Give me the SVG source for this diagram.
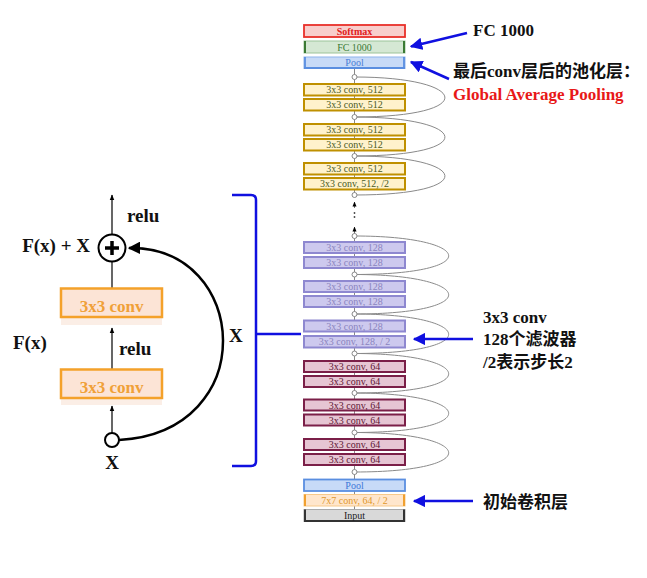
<svg xmlns="http://www.w3.org/2000/svg" width="647" height="578" viewBox="0 0 647 578">
<defs>
<marker id="ab" viewBox="0 0 10 10" refX="9" refY="5" markerWidth="5" markerHeight="5" orient="auto" markerUnits="strokeWidth"><path d="M0,0 L10,5 L0,10 Z" fill="#1010E0"/></marker>
<marker id="ak" viewBox="0 0 10 10" refX="9" refY="5" markerWidth="5" markerHeight="5" orient="auto" markerUnits="strokeWidth"><path d="M0,0 L10,5 L0,10 Z" fill="#000"/></marker>
<marker id="as" viewBox="0 0 10 10" refX="9" refY="5" markerWidth="5" markerHeight="5" orient="auto" markerUnits="strokeWidth"><path d="M0,1 L10,5 L0,9 Z" fill="#000"/></marker>
<style>
.lbl{font-family:"Liberation Serif","Noto Sans CJK SC",serif;font-weight:bold;font-size:17px;fill:#111}
.big{font-family:"Liberation Serif",serif;font-weight:bold;font-size:19px;fill:#111}
.bt{font-family:"Liberation Serif",serif;font-size:10px;text-anchor:middle}
.b512 rect{fill:#FFF2CC;stroke:#BF9000;stroke-width:2}
.b512 text{fill:#4A5A1E}
.b128 rect{fill:#CDC9EE;stroke:#8E88D0;stroke-width:2}
.b128 text{fill:#8A84BE}
.b64 rect{fill:#E6C5D3;stroke:#7B1F48;stroke-width:2}
.b64 text{fill:#5E1533}
.arc{fill:none;stroke:#8a8a8a;stroke-width:1}
.dot{fill:#fff;stroke:#888;stroke-width:1}
.blue{stroke:#1010E0;stroke-width:2.5;fill:none}
.lbox{fill:#FCE4D6;stroke:#F4A12A;stroke-width:2.5}
.lshadow{fill:#FBEEE6}
.ltext{font-family:"Liberation Serif",serif;font-weight:bold;font-size:17px;fill:#F0A038;text-anchor:middle}
</style>
</defs>

<!-- connectors -->
<g id="connectors">
  <line x1="354.5" y1="68" x2="354.5" y2="196" stroke="#888" stroke-width="1"/>
  <line x1="354.5" y1="236" x2="354.5" y2="509" stroke="#888" stroke-width="1"/>
  <line x1="354.5" y1="208" x2="354.5" y2="202" stroke="#777" stroke-width="1" marker-end="url(#as)"/>
  <line x1="354.5" y1="234" x2="354.5" y2="227" stroke="#777" stroke-width="1" marker-end="url(#as)"/>
  <circle cx="354.5" cy="213" r="0.9" fill="#444"/>
  <circle cx="354.5" cy="217" r="0.9" fill="#444"/>
  <path class="arc" d="M354.5,77 C470,77 480,117 354.5,117"/>
  <path class="arc" d="M354.5,117 C470,117 480,156 354.5,156"/>
  <path class="arc" d="M354.5,156 C470,156 480,195 354.5,195"/>
  <path class="arc" d="M354.5,236 C475,236 485,274.5 354.5,274.5"/>
  <path class="arc" d="M354.5,274.5 C475,274.5 485,314 354.5,314"/>
  <path class="arc" d="M354.5,314 C475,314 485,353.5 354.5,353.5"/>
  <path class="arc" d="M354.5,353.5 C475,353.5 485,393 354.5,393"/>
  <path class="arc" d="M354.5,393 C475,393 485,432.5 354.5,432.5"/>
  <path class="arc" d="M354.5,432.5 C475,432.5 485,472 354.5,472"/>
  <!-- left diagram -->
  <line x1="112" y1="234" x2="112" y2="195" stroke="#000" stroke-width="1.2" marker-end="url(#as)"/>
  <line x1="112" y1="262" x2="112" y2="288" stroke="#000" stroke-width="1.2"/>
  <line x1="112" y1="369" x2="112" y2="328" stroke="#000" stroke-width="1.2" marker-end="url(#as)"/>
  <line x1="112" y1="433" x2="112" y2="406" stroke="#000" stroke-width="1.2" marker-end="url(#as)"/>
  <path d="M119,440 C262,432 250,246 129,248" fill="none" stroke="#000" stroke-width="2.5" marker-end="url(#ak)"/>
  <!-- bracket -->
  <path class="blue" d="M232,195 L251,195 Q256,195 256,200 L256,461 Q256,466 251,466 L232,466"/>
  <line class="blue" x1="256" y1="334" x2="301" y2="334"/>
  <!-- annotation arrows -->
  <line class="blue" x1="467" y1="33" x2="411" y2="46.5" marker-end="url(#ab)"/>
  <line class="blue" x1="449" y1="79" x2="411" y2="62" marker-end="url(#ab)"/>
  <line class="blue" x1="473" y1="339" x2="414" y2="339" marker-end="url(#ab)"/>
  <line class="blue" x1="473" y1="501" x2="414" y2="501" marker-end="url(#ab)"/>
</g>

<!-- junction dots -->
<g id="junctions">
  <circle class="dot" cx="354.5" cy="77" r="2.5"/>
  <circle class="dot" cx="354.5" cy="117" r="2.5"/>
  <circle class="dot" cx="354.5" cy="156" r="2.5"/>
  <circle class="dot" cx="354.5" cy="195" r="2.5"/>
  <circle class="dot" cx="354.5" cy="236" r="2.5"/>
  <circle class="dot" cx="354.5" cy="274.5" r="2.5"/>
  <circle class="dot" cx="354.5" cy="314" r="2.5"/>
  <circle class="dot" cx="354.5" cy="353.5" r="2.5"/>
  <circle class="dot" cx="354.5" cy="393" r="2.5"/>
  <circle class="dot" cx="354.5" cy="432.5" r="2.5"/>
  <circle class="dot" cx="354.5" cy="472" r="2.5"/>
</g>

<!-- right column nodes -->
<g id="softmax">
  <rect x="304" y="25" width="101" height="12" fill="#F8CECC" stroke="#E8302A" stroke-width="1.8"/>
  <text class="bt" x="354.5" y="34.5" fill="#E02020" font-weight="bold">Softmax</text>
</g>
<g id="fc1000">
  <rect x="304" y="41" width="101" height="12" fill="#D5E8D4" stroke="#9CC39A" stroke-width="1"/>
  <path d="M305,41 V53 M404,41 V53" stroke="#3B7A34" stroke-width="2"/>
  <text class="bt" x="354.5" y="50.5" fill="#3A7A35">FC 1000</text>
</g>
<g id="pool_top">
  <rect x="304" y="57" width="101" height="11.5" fill="#C7DAF7" stroke="#8DB3EC" stroke-width="1"/>
  <path d="M305,57 V68.5 M404,57 V68.5 M304,68 H405" stroke="#5A8EE0" stroke-width="1.8" fill="none"/>
  <text class="bt" x="354.5" y="66" fill="#4A7ED6">Pool</text>
</g>
<g id="c512_1" class="b512"><rect x="304" y="84" width="101" height="11.5"/><text class="bt" x="354.5" y="93">3x3 conv, 512</text></g>
<g id="c512_2" class="b512"><rect x="304" y="99" width="101" height="11.5"/><text class="bt" x="354.5" y="108">3x3 conv, 512</text></g>
<g id="c512_3" class="b512"><rect x="304" y="124" width="101" height="11.5"/><text class="bt" x="354.5" y="133">3x3 conv, 512</text></g>
<g id="c512_4" class="b512"><rect x="304" y="139" width="101" height="11.5"/><text class="bt" x="354.5" y="148">3x3 conv, 512</text></g>
<g id="c512_5" class="b512"><rect x="304" y="163" width="101" height="11.5"/><text class="bt" x="354.5" y="172">3x3 conv, 512</text></g>
<g id="c512_6" class="b512"><rect x="304" y="178" width="101" height="11.5"/><text class="bt" x="354.5" y="187">3x3 conv, 512, /2</text></g>

<g id="c128_1" class="b128"><rect x="304" y="242" width="101" height="11"/><text class="bt" x="354.5" y="251">3x3 conv, 128</text></g>
<g id="c128_2" class="b128"><rect x="304" y="257" width="101" height="11"/><text class="bt" x="354.5" y="266">3x3 conv, 128</text></g>
<g id="c128_3" class="b128"><rect x="304" y="281" width="101" height="11"/><text class="bt" x="354.5" y="290">3x3 conv, 128</text></g>
<g id="c128_4" class="b128"><rect x="304" y="296" width="101" height="11"/><text class="bt" x="354.5" y="305">3x3 conv, 128</text></g>
<g id="c128_5" class="b128"><rect x="304" y="320.5" width="101" height="11"/><text class="bt" x="354.5" y="329.5">3x3 conv, 128</text></g>
<g id="c128_6" class="b128"><rect x="304" y="336" width="101" height="11.5"/><text class="bt" x="354.5" y="345" font-size="9">3x3 conv, 128, / 2</text></g>

<g id="c64_1" class="b64"><rect x="304" y="361" width="101" height="11"/><text class="bt" x="354.5" y="370">3x3 conv, 64</text></g>
<g id="c64_2" class="b64"><rect x="304" y="376" width="101" height="11"/><text class="bt" x="354.5" y="385">3x3 conv, 64</text></g>
<g id="c64_3" class="b64"><rect x="304" y="399.5" width="101" height="11"/><text class="bt" x="354.5" y="408.5">3x3 conv, 64</text></g>
<g id="c64_4" class="b64"><rect x="304" y="414.5" width="101" height="11"/><text class="bt" x="354.5" y="423.5">3x3 conv, 64</text></g>
<g id="c64_5" class="b64"><rect x="304" y="439" width="101" height="11"/><text class="bt" x="354.5" y="448">3x3 conv, 64</text></g>
<g id="c64_6" class="b64"><rect x="304" y="454" width="101" height="11"/><text class="bt" x="354.5" y="463">3x3 conv, 64</text></g>

<g id="pool_bottom">
  <rect x="304" y="479.5" width="101" height="11.5" fill="#C7DAF7" stroke="#5A8EE0" stroke-width="1.8"/>
  <text class="bt" x="354.5" y="488.5" fill="#3D78D8">Pool</text>
</g>
<g id="conv7x7">
  <rect x="304" y="494.5" width="101" height="11.5" fill="#FFE6CC" stroke="#F7C98A" stroke-width="1"/>
  <path d="M305,494.5 V506 M404,494.5 V506" stroke="#F0A030" stroke-width="2"/>
  <text class="bt" x="354.5" y="503.5" fill="#E0962A">7x7 conv, 64, / 2</text>
</g>
<g id="input">
  <rect x="304" y="509.5" width="101" height="12" fill="#D9D9D9" stroke="#AAA" stroke-width="1"/>
  <path d="M305,509.5 V521 H404 V509.5" stroke="#333" stroke-width="2" fill="none"/>
  <text class="bt" x="354.5" y="519" fill="#222">Input</text>
</g>

<!-- left residual block -->
<g id="plus_node">
  <circle cx="112" cy="248" r="13.5" fill="#fff" stroke="#000" stroke-width="2"/>
  <path d="M105,248 H119 M112,241 V255" stroke="#000" stroke-width="3.5"/>
</g>
<g id="conv_upper">
  <rect class="lshadow" x="61" y="317" width="101" height="8"/>
  <rect class="lbox" x="61" y="288.5" width="101" height="28.5"/>
  <text class="ltext" x="111.5" y="312">3x3 conv</text>
</g>
<g id="conv_lower">
  <rect class="lshadow" x="61" y="398" width="101" height="7"/>
  <rect class="lbox" x="61" y="369.5" width="101" height="28.5"/>
  <text class="ltext" x="111.5" y="393">3x3 conv</text>
</g>
<g id="input_x">
  <circle cx="112" cy="440" r="7" fill="#fff" stroke="#000" stroke-width="2"/>
</g>
<g id="left_labels">
  <text class="big" x="127" y="222">relu</text>
  <text class="big" x="90" y="252" text-anchor="end">F(x) + X</text>
  <text class="big" x="13" y="349">F(x)</text>
  <text class="big" x="119" y="355">relu</text>
  <text class="big" x="112" y="469" text-anchor="middle">X</text>
  <text class="big" x="229" y="342">X</text>
</g>

<!-- right annotations -->
<g id="annotations">
  <text class="lbl" x="473" y="36">FC 1000</text>
  <text class="lbl" x="453" y="77">最后conv层后的池化层：</text>
  <text class="lbl" x="453" y="100" style="fill:#E81818">Global Average Pooling</text>
  <text class="lbl" x="483" y="323">3x3 conv</text>
  <text class="lbl" x="483" y="345">128个滤波器</text>
  <text class="lbl" x="483" y="368">/2表示步长2</text>
  <text class="lbl" x="483" y="508">初始卷积层</text>
</g>
</svg>
